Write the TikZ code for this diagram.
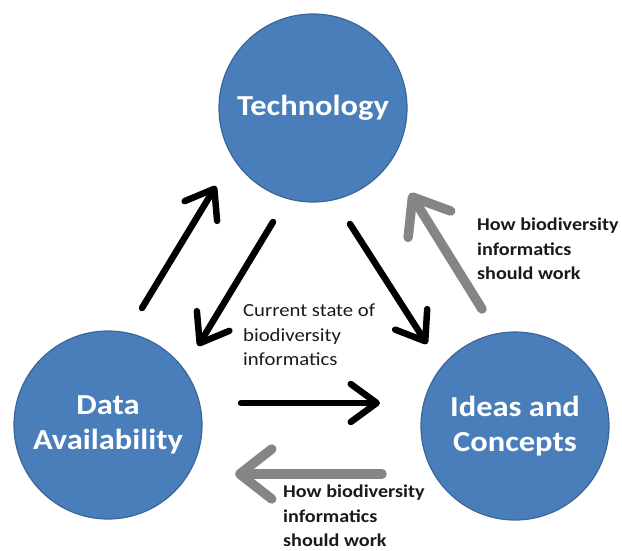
\documentclass[tikz,border=0pt]{standalone}
\usepackage{fontspec}
\setmainfont[FakeStretch=1.12]{Carlito}
\usetikzlibrary{arrows.meta}
\definecolor{cfill}{HTML}{4A7EBB}
\definecolor{cedge}{HTML}{3A6699}
\definecolor{garrow}{HTML}{858585}
\definecolor{txt}{HTML}{1A1A1A}
\tikzset{
  bubble/.style={circle, minimum size=188pt, inner sep=0pt, fill=cfill, draw=cedge, line width=1.2pt,
    text=white, font=\bfseries\fontsize{29}{35}\selectfont, align=center},
  blackarrow/.style={line width=6.5pt, black, line cap=round,
    -{Straight Barb[round, length=26pt, width=38pt]}},
  grayarrow/.style={line width=9.5pt, garrow, line cap=round,
    -{Straight Barb[round, length=32pt, width=50pt]}},
  lab/.style={text=txt, align=left, inner sep=0pt, font=\fontsize{18.5}{24.5}\selectfont},
  boldlab/.style={lab, font=\bfseries\fontsize{18}{24.5}\selectfont}
}
\begin{document}
\begin{tikzpicture}[x=1pt,y=-1pt]
\useasboundingbox (0,0) rectangle (622,550);
\node[bubble] (tech) at (313,108) {Technology};
\node[bubble] (data) at (108,425) {Data\\Availability};
\node[bubble] (ideas) at (515,426) {Ideas and\\Concepts};

\coordinate (a1s) at (142,308); \coordinate (a1e) at (216,186);
\coordinate (a2s) at (273,222); \coordinate (a2e) at (198,346);
\coordinate (a3s) at (350,224); \coordinate (a3e) at (427,344);
\coordinate (a4s) at (241,403); \coordinate (a4e) at (380,403);
\coordinate (g1s) at (482,309); \coordinate (g1e) at (410,193);
\coordinate (g2s) at (382,474); \coordinate (g2e) at (235,474);

\draw[blackarrow] (a1s) -- (a1e);
\draw[blackarrow] (a2s) -- (a2e);
\draw[blackarrow] (a3s) -- (a3e);
\draw[blackarrow] (a4s) -- (a4e);
\draw[grayarrow] (g1s) -- (g1e);
\draw[grayarrow] (g2s) -- (g2e);

\node[lab, anchor=north west] (cur) at (243,304) {Current state of\\biodiversity\\informatics};
\node[boldlab, anchor=north west] (how1) at (477,218) {How biodiversity\\informatics\\should work};
\node[boldlab, anchor=north west] (how2) at (283,485) {How biodiversity\\informatics\\should work};
\end{tikzpicture}
\end{document}
